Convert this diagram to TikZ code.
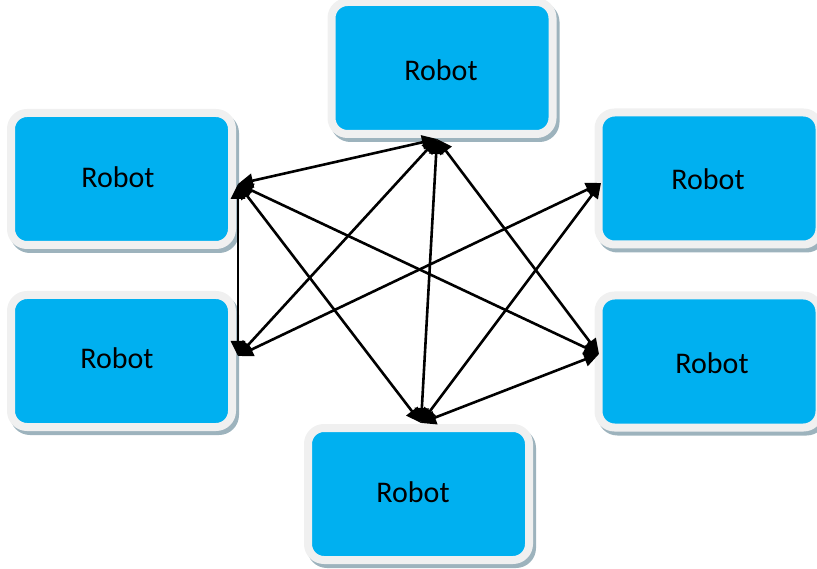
\documentclass[tikz,border=0pt]{standalone}
\usepackage{fontspec}
\setmainfont{Carlito}
\usetikzlibrary{arrows.meta}
\definecolor{robotblue}{HTML}{00B0F0}
\definecolor{rimgray}{HTML}{F0F0F0}
\definecolor{shadowc}{HTML}{9DB3BD}
\tikzset{
  robot/.style={
    rectangle, rounded corners=16pt,
    minimum width=221pt, minimum height=132pt,
    fill=robotblue, draw=rimgray, line width=8pt,
    preaction={draw=shadowc, fill=shadowc, line width=8pt,
               transform canvas={xshift=3pt, yshift=-4pt}}
  },
  robotlabel/.style={font=\fontsize{30}{36}\selectfont, text=black, inner sep=0pt},
  link/.style={line width=2.6pt, black,
    {Triangle[length=15pt,width=14pt]}-{Triangle[length=15pt,width=14pt]}}
}
\begin{document}
\begin{tikzpicture}[x=1pt, y=-1pt]
  \useasboundingbox (0,0) rectangle (817,569);

  % robot boxes
  \node[robot] (top)    at (442,68)    {};
  \node[robot] (ltop)   at (121.5,179) {};
  \node[robot] (lbot)   at (121.5,361) {};
  \node[robot] (rtop)   at (709,178.5) {};
  \node[robot] (rbot)   at (709,361.5) {};
  \node[robot] (bottom) at (418.5,494) {};

  % box captions
  \node[robotlabel] (topL)    at (441,70)  {Robot};
  \node[robotlabel] (ltopL)   at (118,177) {Robot};
  \node[robotlabel] (lbotL)   at (117,358) {Robot};
  \node[robotlabel] (rtopL)   at (708,179) {Robot};
  \node[robotlabel] (rbotL)   at (712,363) {Robot};
  \node[robotlabel] (bottomL) at (413,492) {Robot};

  % connection points on the box rims
  \coordinate (pT)  at (437,139);
  \coordinate (pLT) at (238,184);
  \coordinate (pLB) at (238,356);
  \coordinate (pRT) at (601,183);
  \coordinate (pRB) at (599,354);
  \coordinate (pB)  at (421,423);

  % links
  \draw[link] (pT)  -- (pLT);
  \draw[link] (pT)  -- (pLB);
  \draw[link] (pT)  -- (pB);
  \draw[link] (pT)  -- (pRB);
  \draw[link] (pLT) -- (pLB);
  \draw[link] (pLT) -- (pB);
  \draw[link] (pLT) -- (pRB);
  \draw[link] (pLB) -- (pRT);
  \draw[link] (pB)  -- (pRT);
  \draw[link] (pB)  -- (pRB);
\end{tikzpicture}
\end{document}
